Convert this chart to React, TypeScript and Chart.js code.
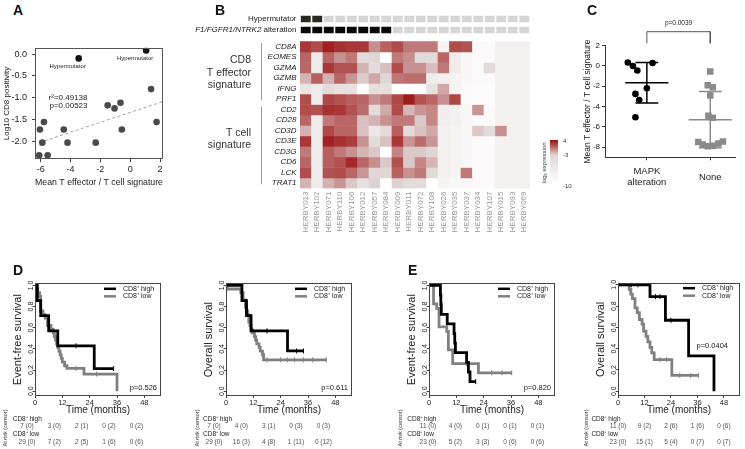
import React, { useEffect, useRef } from 'react';
import { Chart, registerables } from 'chart.js';

Chart.register(...registerables);

const FONT = "'Liberation Sans', Arial, Helvetica, sans-serif";
Chart.defaults.font.family = FONT;
Chart.defaults.color = '#333';

/* ================= Panel A : scatter ================= */
const aHyperX = [-3.45, 1.07];
const aHyperY = [-0.1, 0.08];
const aOtherX = [1.4, -1.51, -1.05, -0.65, 1.77, -0.56, -5.78, -6.05, -4.45, -5.89, -4.2, -2.31, -6.1, -5.53];
const aOtherY = [-0.8, -1.17, -1.24, -1.11, -1.55, -1.72, -1.55, -1.72, -1.72, -2.02, -2.02, -2.02, -2.31, -2.31];
const aXTicks = [-6, -4, -2, 0, 2];
const aYTicks = [0, -0.5, -1, -1.5, -2];
const aPointLabel = 'Hypermutator';
const aStats = ['r\u00b2=0.49138', 'p=0.00523'];
const aXTitle = 'Mean T effector / T cell signature';
const aYTitle = 'Log10 CD8 positivity';

/* ================= Panel B : heatmap ================= */
const bSamples = ['HERBY013', 'HERBY102', 'HERBY071', 'HERBY110', 'HERBY106', 'HERBY012', 'HERBY057', 'HERBY084', 'HERBY009', 'HERBY011',
  'HERBY072', 'HERBY108', 'HERBY026', 'HERBY035', 'HERBY037', 'HERBY034', 'HERBY107', 'HERBY015', 'HERBY093', 'HERBY069'];
const bGenes = ['CD8A', 'EOMES', 'GZMA', 'GZMB', 'IFNG', 'PRF1', 'CD2', 'CD28', 'CD3D', 'CD3E', 'CD3G', 'CD6', 'LCK', 'TRAT1'];
const bHypermutator = [1, 1, 0, 0, 0, 0, 0, 0, 0, 0, 0, 0, 0, 0, 0, 0, 0, 0, 0, 0];
const bMapkAltered = [1, 1, 1, 1, 1, 1, 1, 1, 0, 0, 0, 0, 0, 0, 0, 0, 0, 0, 0, 0];
const bAnnotLabels = ['Hypermutator', 'NF1/FGFR1/NTRK2', ' alteration'];
const bGroupLabels = [['CD8', 'T effector', 'signature'], ['T cell', 'signature']];
const bExpr = [
  [3.0, 2.2, 3.9, 3.2, 3.0, 3.0, -0.3, 1.4, 2.2, 0.5, 0.5, 0.5, -7.8, 2.2, 2.0, -9, -9, -7.5, -7.5, -7.5], // CD8A
  [1.3, -6.2, 1.3, -0.4, 0.5, -3.6, -3.0, -10, 0.5, -0.3, -3.5, -3.5, 1.2, -6.6, -8.5, -9, -9, -7.5, -7.5, -7.5], // EOMES
  [1.2, -6.2, 3.0, 2.0, 2.0, -1.7, -3.9, -2.1, 2.2, -0.4, -0.4, -2.1, 0.5, -6.6, -8.5, -9, -3.6, -7.5, -7.5, -7.5], // GZMA
  [-1.7, 1.5, -1.6, 1.3, -0.5, -2.6, -1.2, -3.0, 0.6, 0.9, 0.9, -6.6, -7.5, -8, -8.5, -9, -9, -7.5, -7.5, -7.5], // GZMB
  [-5.2, -6.6, -3.9, -4.8, -4.8, -10, -4.4, -4.4, -10, -10, -10, -4.8, -1.2, -8, -9, -9.5, -9.5, -7.5, -7.5, -7.5], // IFNG
  [2.2, -6.6, 2.4, 2.0, 1.5, 1.3, -0.4, 0.5, 2.4, 4.0, 2.0, 1.2, -0.4, 2.4, -9, -9.5, -9.5, -7.5, -7.5, -7.5], // PRF1
  [2.2, 2.0, 3.2, 3.0, 2.0, 1.0, -3.9, -1.3, 2.2, -1.8, -0.5, 0.0, -7, -7.5, -8.4, -0.5, -9, -7.5, -7.5, -7.5], // CD2
  [1.2, -6.6, 0.5, 1.2, 1.2, -2.2, -1.7, -0.4, 0.5, 0.5, -2.5, 0.0, -7, -7.5, -8.4, -9, -9, -7.5, -7.5, -7.5], // CD28
  [-1.6, -6.6, 2.4, 1.2, 1.2, -2.2, -5.7, -3.7, 1.5, -3.7, -2.2, -1.3, -7.5, -8, -8.5, -2.5, -3.6, -0.4, -7.5, -7.5], // CD3D
  [3.0, -6.6, 3.8, 3.2, 2.8, -0.4, -3.9, -2.2, 3.0, -0.5, 1.0, -0.5, -7.5, -8, -8.5, -9, -9, -7.5, -7.5, -7.5], // CD3E
  [0.5, -6.6, 1.5, 0.5, -0.4, -1.8, -2.5, -10, 0.1, -2.5, -2.5, -3.0, -7.5, -8, -8.5, -9, -9, -7.5, -7.5, -7.5], // CD3G
  [1.2, -6.6, 1.5, 2.0, 3.5, 1.2, -0.3, -2.5, 2.0, -2.5, 0.0, -1.8, -7.5, -8, -8.5, -9, -9, -7.5, -7.5, -7.5], // CD6
  [2.2, -6.6, 2.0, 2.2, 1.2, -0.5, -3.0, -3.0, 1.4, -0.4, 0.5, -3.5, -7.5, -8, 0.5, -9, -9, -7.5, -7.5, -7.5], // LCK
  [-1.7, -6.6, -1.6, -0.5, -2.5, -4.8, -2.8, -10, -2.8, -3.7, -3.7, -10, -8, -8.5, -8.5, -9, -9, -7.5, -7.5, -7.5], // TRAT1
];
const bLegendTicks = [4, -3, -10];
const bLegendTitle = 'log\u2082 expression';

/* ================= Panel C : dot plot ================= */
const cGroupLabels: (string | string[])[] = [['MAPK', 'alteration'], 'None'];
const cMapkVals = [0.35, 0.0, -0.45, 0.3, -2.2, -2.75, -3.35, -5.05];
const cMapkJitter = [-0.3, -0.22, -0.15, 0.09, 0.0, -0.18, -0.12, -0.18];
const cNoneVals = [-0.55, -1.9, -2.1, -2.9, -4.9, -5.1, -7.5, -7.75, -7.9, -7.85, -7.65, -7.45];
const cNoneJitter = [0, -0.04, 0.04, 0, -0.03, 0.04, -0.19, -0.12, -0.04, 0.04, 0.13, 0.2];
const cYTicks = [2, 0, -2, -4, -6, -8];
const cPValue = 'p=0.0039';
const cYTitle = 'Mean T effector / T cell signature';

/* ================= Panels D / E : Kaplan-Meier ================= */
const kmXTicks = [0, 12, 24, 36, 48];
const kmYTicks = [0, 0.2, 0.4, 0.6, 0.8, 1.0];
const kmGroups = ['CD8\u207a high', 'CD8\u207a low'];
const kmXTitle = 'Time (months)';
const kmRiskTitle = 'At risk (censor)';

// D – event-free survival
const dEfsHighT = [0, 1, 2.5, 6, 10, 26, 34.5];
const dEfsHighS = [1, 0.857, 0.714, 0.571, 0.429, 0.214, 0.214];
const dEfsHighCensT = [18, 34.5];
const dEfsHighCensS = [0.429, 0.214];
const dEfsLowT = [0, 0.5, 1.2, 2, 2.5, 3.5, 4.5, 5.5, 7, 8, 8.5, 9, 9.5, 10, 10.5, 11, 11.5, 12, 13, 14, 21.5, 36];
const dEfsLowS = [1, 0.966, 0.931, 0.897, 0.759, 0.724, 0.69, 0.621, 0.586, 0.552, 0.517, 0.483, 0.448, 0.414, 0.379, 0.345, 0.31, 0.276, 0.241, 0.216, 0.162, 0];
const dEfsLowCensT = [18, 27];
const dEfsLowCensS = [0.216, 0.162];
const dEfsRiskHigh = ['7 (0)', '3 (0)', '2 (1)', '0 (2)', '0 (2)'];
const dEfsRiskLow = ['29 (0)', '7 (2)', '2 (5)', '1 (6)', '0 (6)'];

// D – overall survival
const dOsHighT = [0, 7, 9, 11, 27, 34];
const dOsHighS = [1, 0.857, 0.714, 0.571, 0.381, 0.381];
const dOsHighCensT = [18, 31, 34];
const dOsHighCensS = [0.571, 0.381, 0.381];
const dOsLowT = [0, 0.5, 6.5, 7.5, 8.5, 9, 9.5, 10, 10.5, 11, 11.5, 12.5, 13, 13.5, 14.5, 15, 16, 16.5, 44];
const dOsLowS = [1, 0.966, 0.931, 0.862, 0.793, 0.759, 0.724, 0.655, 0.621, 0.586, 0.552, 0.517, 0.483, 0.448, 0.414, 0.379, 0.345, 0.297, 0.297];
const dOsLowCensT = [18, 24, 27, 30, 34, 38, 44];
const dOsLowCensS = [0.297, 0.297, 0.297, 0.297, 0.297, 0.297, 0.297];
const dOsRiskHigh = ['7 (0)', '4 (0)', '3 (1)', '0 (3)', '0 (3)'];
const dOsRiskLow = ['29 (0)', '16 (3)', '4 (8)', '1 (11)', '0 (12)'];

// E – event-free survival
const eEfsHighT = [0, 5, 5.2, 5.4, 8, 11, 11.3, 11.6, 16.5, 17.3, 18, 20.5];
const eEfsHighS = [1, 0.909, 0.818, 0.727, 0.636, 0.545, 0.455, 0.364, 0.273, 0.182, 0.091, 0.091];
const eEfsHighCensT = [20.5];
const eEfsHighCensS = [0.091];
const eEfsLowT = [0, 2, 3.4, 4.4, 7.8, 8.5, 10.4, 21.7, 36.3];
const eEfsLowS = [1, 0.826, 0.783, 0.609, 0.565, 0.391, 0.261, 0.174, 0.174];
const eEfsLowCensT = [16.5, 27.5, 32, 36.3];
const eEfsLowCensS = [0.261, 0.174, 0.174, 0.174];
const eEfsRiskHigh = ['11 (0)', '4 (0)', '0 (1)', '0 (1)', '0 (1)'];
const eEfsRiskLow = ['23 (0)', '5 (2)', '3 (3)', '0 (6)', '0 (6)'];

// E – overall survival
const eOsHighT = [0, 14.5, 21.5, 32, 43.5];
const eOsHighS = [1, 0.889, 0.667, 0.333, 0];
const eOsHighCensT = [6, 9, 17, 19, 24];
const eOsHighCensS = [1, 1, 0.889, 0.889, 0.667];
const eOsLowT = [0, 5.1, 5.8, 6.5, 7.7, 8.7, 9.7, 10.9, 11.6, 12.7, 13.5, 14.5, 15.3, 16.4, 24.4, 36.4];
const eOsLowS = [1, 0.957, 0.913, 0.87, 0.783, 0.739, 0.674, 0.63, 0.565, 0.515, 0.464, 0.412, 0.361, 0.297, 0.149, 0.149];
const eOsLowCensT = [19, 22, 28, 33, 36.4];
const eOsLowCensS = [0.297, 0.297, 0.149, 0.149, 0.149];
const eOsRiskHigh = ['11 (0)', '9 (2)', '2 (6)', '1 (6)', '0 (6)'];
const eOsRiskLow = ['23 (0)', '15 (1)', '5 (4)', '0 (7)', '0 (7)'];

/* ================= helpers ================= */
const fixW = (w: number) => (s: any) => { s.width = w; s.paddingTop = 0; s.paddingBottom = 0; };
const fixH = (h: number) => (s: any) => { s.height = h; s.paddingLeft = 0; s.paddingRight = 0; };
const setTicks = (vals: number[]) => (s: any) => { s.ticks = vals.map((v) => ({ value: v })); };
const pts = (xs: number[], ys: number[]) => xs.map((x, i) => ({ x, y: ys[i] }));
const mean = (v: number[]) => v.reduce((a, b) => a + b, 0) / v.length;
const sd = (v: number[]) => { const m = mean(v); return Math.sqrt(v.reduce((a, b) => a + (b - m) * (b - m), 0) / (v.length - 1)); };

function linFit(xs: number[], ys: number[]) {
  const mx = mean(xs), my = mean(ys);
  let sxy = 0, sxx = 0;
  xs.forEach((x, i) => { sxy += (x - mx) * (ys[i] - my); sxx += (x - mx) * (x - mx); });
  const b = sxy / sxx;
  return { a: my - b * mx, b };
}

function frame(ctx: CanvasRenderingContext2D, a: any, color: string) {
  const L = Math.round(a.left) + 0.5, T = Math.round(a.top) + 0.5;
  const R = Math.round(a.right) - 0.5, B = Math.round(a.bottom) - 0.5;
  ctx.save();
  ctx.strokeStyle = color;
  ctx.lineWidth = 1;
  ctx.strokeRect(L, T, R - L, B - T);
  ctx.restore();
}

function heatColor(v: number) {
  const hi = [160, 28, 28], mid = [224, 214, 214], lo = [255, 255, 255];
  let c: number[];
  if (v >= -3) {
    const t = Math.min(1, (v + 3) / 7);
    c = mid.map((m, k) => m + (hi[k] - m) * t);
  } else {
    const t = Math.max(0, (v + 10) / 7);
    c = lo.map((l, k) => l + (mid[k] - l) * t);
  }
  return `rgb(${c.map((x) => Math.round(x)).join(',')})`;
}

/* ================= Panel A config ================= */
const A_X_RANGE = [-6.38, 2.2];
const A_Y_RANGE = [-2.4, 0.144];

function buildA() {
  const fit = linFit(aOtherX, aOtherY);
  const x0 = Math.min(...aOtherX), x1 = A_X_RANGE[1];
  const textPlugin = {
    id: 'aText',
    afterDraw(chart: any) {
      const { ctx, chartArea: a, scales: { x, y } } = chart;
      frame(ctx, a, '#555');
      ctx.save();
      ctx.fillStyle = '#222';
      ctx.textBaseline = 'middle';
      ctx.textAlign = 'center';
      ctx.font = `6px ${FONT}`;
      aHyperX.forEach((hx, i) => {
        const px = x.getPixelForValue(hx), py = y.getPixelForValue(aHyperY[i]);
        ctx.fillText(aPointLabel, px - 11, py + 8);
      });
      ctx.font = `8px ${FONT}`;
      ctx.textAlign = 'right';
      ctx.fillText(aStats[0], a.left + 52.5, a.top + 50);
      ctx.fillText(aStats[1], a.left + 52.5, a.top + 58.5);
      ctx.restore();
    },
  };
  return {
    type: 'scatter',
    data: {
      datasets: [
        { data: pts(aHyperX, aHyperY), pointRadius: 3.3, pointBackgroundColor: '#111', pointBorderWidth: 0 },
        { data: pts(aOtherX, aOtherY), pointRadius: 3.3, pointBackgroundColor: '#4a4a4a', pointBorderWidth: 0 },
        {
          type: 'line',
          data: [{ x: x0, y: fit.a + fit.b * x0 }, { x: x1, y: fit.a + fit.b * x1 }],
          borderColor: '#a0a0a0', borderWidth: 1, borderDash: [3, 2.5], pointRadius: 0,
        },
      ],
    },
    options: {
      responsive: false,
      animation: false,
      layout: { padding: { left: 0, right: 7, top: 7.7, bottom: 10.7 } },
      plugins: { legend: { display: false }, tooltip: { enabled: false } },
      scales: {
        x: {
          type: 'linear', min: A_X_RANGE[0], max: A_X_RANGE[1],
          afterBuildTicks: setTicks(aXTicks), afterFit: fixH(30),
          grid: { display: true, drawOnChartArea: false, drawTicks: true, tickLength: 3, color: '#444' },
          border: { display: false },
          ticks: { font: { size: 9 }, color: '#222', padding: 2, maxRotation: 0 },
          title: { display: true, text: aXTitle, font: { size: 9 }, color: '#222', padding: { top: 0, bottom: 1 } },
        },
        y: {
          type: 'linear', min: A_Y_RANGE[0], max: A_Y_RANGE[1],
          afterBuildTicks: setTicks(aYTicks), afterFit: fixW(35),
          grid: { display: true, drawOnChartArea: false, drawTicks: true, tickLength: 3, color: '#444' },
          border: { display: false },
          ticks: { font: { size: 9 }, color: '#222', padding: 5, callback: (v: any) => Number(v).toFixed(1) },
          title: { display: true, text: aYTitle, font: { size: 8 }, color: '#222', padding: { top: 2, bottom: 0 } },
        },
      },
    },
    plugins: [textPlugin],
  };
}

/* ================= Panel B config ================= */
const B_HYPER_ROW = -2.14;
const B_MAPK_ROW = -1.1;
const B_ANNOT_HALF = 0.31;

function buildB() {
  const datasets: any[] = [];
  bGenes.forEach((g, r) => {
    datasets.push({
      label: g,
      data: bSamples.map(() => [r, r + 1]),
      backgroundColor: bExpr[r].map(heatColor),
      barPercentage: 1, categoryPercentage: 1, borderWidth: 0, grouped: false,
    });
  });
  datasets.push({
    label: 'Hypermutator',
    data: bSamples.map(() => [B_HYPER_ROW - B_ANNOT_HALF, B_HYPER_ROW + B_ANNOT_HALF]),
    backgroundColor: bHypermutator.map((v) => (v ? '#2b2a20' : '#d5d5d5')),
    barPercentage: 0.86, categoryPercentage: 1, borderWidth: 0, grouped: false,
  });
  datasets.push({
    label: 'NF1/FGFR1/NTRK2 alteration',
    data: bSamples.map(() => [B_MAPK_ROW - B_ANNOT_HALF, B_MAPK_ROW + B_ANNOT_HALF]),
    backgroundColor: bMapkAltered.map((v) => (v ? '#080808' : '#d5d5d5')),
    barPercentage: 0.86, categoryPercentage: 1, borderWidth: 0, grouped: false,
  });

  const textPlugin = {
    id: 'bText',
    afterDraw(chart: any) {
      const { ctx, chartArea: a, scales: { y } } = chart;
      ctx.save();
      ctx.fillStyle = '#222';
      ctx.textBaseline = 'middle';
      ctx.textAlign = 'right';
      const xr = a.left - 3.5;
      ctx.font = `8px ${FONT}`;
      ctx.fillText(bAnnotLabels[0], xr, y.getPixelForValue(B_HYPER_ROW));
      const yy = y.getPixelForValue(B_MAPK_ROW);
      const wTail = ctx.measureText(bAnnotLabels[2]).width;
      ctx.fillText(bAnnotLabels[2], xr, yy);
      ctx.font = `italic 8px ${FONT}`;
      ctx.fillText(bAnnotLabels[1], xr - wTail, yy);

      // group labels and brackets
      ctx.font = `10.5px ${FONT}`;
      ctx.fillStyle = '#333';
      const gx = a.left - 49;
      const g1 = y.getPixelForValue(3);
      bGroupLabels[0].forEach((t, i) => ctx.fillText(t, gx, g1 - 12.5 + i * 12.5));
      const g2 = y.getPixelForValue(9.3);
      bGroupLabels[1].forEach((t, i) => ctx.fillText(t, gx, g2 - 6.3 + i * 12.5));
      ctx.strokeStyle = '#999';
      ctx.lineWidth = 1;
      const bx = Math.round(a.left - 39) + 0.5;
      ctx.beginPath();
      ctx.moveTo(bx, y.getPixelForValue(0.15)); ctx.lineTo(bx, y.getPixelForValue(5.6));
      ctx.moveTo(bx, y.getPixelForValue(6.2)); ctx.lineTo(bx, y.getPixelForValue(13.6));
      ctx.stroke();

      // colour legend
      const y0 = a.top + 125.8, y1 = a.top + 169.8;
      const posOf = (v: number) => (v >= -3 ? y0 + 1.5 + ((4 - v) / 7) * 13.5 : y0 + 15 + ((-3 - v) / 7) * (y1 - y0 - 15));
      const bx0 = a.right + 20;
      const grad = ctx.createLinearGradient(0, y0, 0, y1);
      [4, 3, 2, 1, 0, -1, -2, -3, -4.5, -6, -8, -10].forEach((v) => {
        grad.addColorStop(Math.min(1, Math.max(0, (posOf(v) - y0) / (y1 - y0))), heatColor(v));
      });
      ctx.fillStyle = grad;
      ctx.fillRect(bx0, y0, 8, y1 - y0);
      ctx.fillStyle = '#333';
      ctx.font = `6px ${FONT}`;
      ctx.textAlign = 'left';
      bLegendTicks.forEach((v) => ctx.fillText(String(v), bx0 + 13, posOf(v) + (v === -10 ? 2.5 : 0)));
      ctx.save();
      ctx.translate(bx0 - 6, (y0 + y1) / 2 + 1);
      ctx.rotate(-Math.PI / 2);
      ctx.textAlign = 'center';
      ctx.fillText(bLegendTitle, 0, 0);
      ctx.restore();
      ctx.restore();
    },
  };

  return {
    type: 'bar',
    data: { labels: bSamples, datasets },
    options: {
      responsive: false,
      animation: false,
      layout: { padding: { left: 0, right: 45, top: 6.2, bottom: 0 } },
      plugins: { legend: { display: false }, tooltip: { enabled: false } },
      scales: {
        x: {
          type: 'category', offset: true,
          afterFit: fixH(59.5),
          grid: { display: false, drawTicks: false },
          border: { display: false },
          ticks: { autoSkip: false, minRotation: 90, maxRotation: 90, padding: 3, color: '#999', font: { size: 8 } },
        },
        y: {
          type: 'linear', min: -2.6, max: 14, reverse: true,
          afterBuildTicks: setTicks(bGenes.map((_, i) => i + 0.5)),
          afterFit: fixW(105),
          grid: { display: false, drawTicks: false },
          border: { display: false },
          ticks: {
            autoSkip: false, padding: 3.5, color: '#222', font: { size: 8, style: 'italic' },
            callback: (_v: any, i: number) => bGenes[i],
          },
        },
      },
    },
    plugins: [textPlugin],
  };
}

/* ================= Panel C config ================= */
function buildC() {
  const summary = (c: number, vals: number[]) => {
    const m = mean(vals), s = sd(vals);
    return [
      { x: c - 0.34, y: m }, { x: c + 0.34, y: m }, { x: c, y: null },
      { x: c - 0.18, y: m + s }, { x: c + 0.18, y: m + s }, { x: c, y: null },
      { x: c - 0.18, y: m - s }, { x: c + 0.18, y: m - s }, { x: c, y: null },
      { x: c, y: m + s }, { x: c, y: m - s },
    ];
  };
  const textPlugin = {
    id: 'cText',
    afterDraw(chart: any) {
      const { ctx, scales: { x, y } } = chart;
      ctx.save();
      ctx.fillStyle = '#222';
      ctx.font = `6.5px ${FONT}`;
      ctx.textAlign = 'center';
      ctx.textBaseline = 'middle';
      ctx.fillText(cPValue, x.getPixelForValue(1.5), y.getPixelForValue(3.38) - 8);
      ctx.restore();
    },
  };
  return {
    type: 'scatter',
    data: {
      datasets: [
        { data: cMapkVals.map((v, i) => ({ x: 1 + cMapkJitter[i], y: v })), pointRadius: 3.3, pointBackgroundColor: '#000', pointBorderWidth: 0 },
        { data: cNoneVals.map((v, i) => ({ x: 2 + cNoneJitter[i], y: v })), pointStyle: 'rect', pointRadius: 4.6, pointBackgroundColor: '#8a8a8a', pointBorderWidth: 0 },
        { type: 'line', data: summary(1, cMapkVals), borderColor: '#000', borderWidth: 1.5, pointRadius: 0, spanGaps: false },
        { type: 'line', data: summary(2, cNoneVals), borderColor: '#8a8a8a', borderWidth: 1.5, pointRadius: 0, spanGaps: false },
        {
          type: 'line', data: [{ x: 1, y: 2.24 }, { x: 1, y: 3.38 }, { x: 2, y: 3.38 }, { x: 2, y: 2.24 }],
          borderColor: '#555', borderWidth: 1, pointRadius: 0, clip: false,
        },
      ],
    },
    options: {
      responsive: false,
      animation: false,
      layout: { padding: { left: 0, right: 10, top: 35.7, bottom: 12.7 } },
      plugins: { legend: { display: false }, tooltip: { enabled: false } },
      scales: {
        x: {
          type: 'linear', min: 0.34, max: 2.39,
          afterBuildTicks: setTicks([1, 2]), afterFit: fixH(30),
          grid: { display: true, drawOnChartArea: false, drawTicks: true, tickLength: 3, color: '#333' },
          border: { display: true, color: '#333' },
          ticks: { font: { size: 9.5 }, color: '#222', padding: 11, maxRotation: 0, crossAlign: 'center', callback: (_v: any, i: number) => cGroupLabels[i] },
        },
        y: {
          type: 'linear', min: -9, max: 2,
          afterBuildTicks: setTicks(cYTicks), afterFit: fixW(30),
          grid: { display: true, drawOnChartArea: false, drawTicks: true, tickLength: 3, color: '#333' },
          border: { display: true, color: '#333' },
          ticks: { font: { size: 8 }, color: '#222', padding: 2 },
          title: { display: true, text: cYTitle, font: { size: 8.5 }, color: '#222', padding: { top: 7.5, bottom: 0 } },
        },
      },
    },
    plugins: [textPlugin],
  };
}

/* ================= KM config ================= */
type Curve = { t: number[]; s: number[]; ct: number[]; cs: number[]; risk: string[] };
type KMSpec = {
  left: number; top: number; width: number; height: number; padRight: number; padTop: number;
  yTitle: string; pText: string; pDx: number; pDy: number; numDx: number; labDx: number; riskDx: number;
  high: Curve; low: Curve;
};

const KM_X_MAX = 55.3;

function buildKM(p: KMSpec) {
  const textPlugin = {
    id: 'kmText',
    afterDraw(chart: any) {
      const { ctx, chartArea: a, scales: { x } } = chart;
      frame(ctx, a, '#444');
      ctx.save();
      // legend
      const lx = a.right - 57;
      [['#000', kmGroups[0]], ['#808080', kmGroups[1]]].forEach(([c, t], i) => {
        const ly = a.top + 5.5 + i * 7.5;
        ctx.strokeStyle = c;
        ctx.lineWidth = 2.5;
        ctx.beginPath();
        ctx.moveTo(lx, ly);
        ctx.lineTo(lx + 12, ly);
        ctx.stroke();
        ctx.fillStyle = '#222';
        ctx.font = `7px ${FONT}`;
        ctx.textAlign = 'left';
        ctx.textBaseline = 'middle';
        ctx.fillText(t, lx + 19, ly);
      });
      // p value
      ctx.font = `7.5px ${FONT}`;
      ctx.textAlign = 'right';
      ctx.fillText(p.pText, a.right + p.pDx, a.bottom + p.pDy);
      // at-risk table
      const base = a.bottom;
      ctx.fillStyle = '#222';
      ctx.font = `6.5px ${FONT}`;
      ctx.textAlign = 'left';
      ctx.fillText(kmGroups[0], a.left + p.labDx, base + 23.3);
      ctx.fillText(kmGroups[1], a.left + p.labDx, base + 38);
      ctx.fillStyle = '#555';
      ctx.textAlign = 'center';
      kmXTicks.forEach((t, i) => {
        const px = x.getPixelForValue(t) + p.numDx;
        ctx.fillText(p.high.risk[i], px, base + 30.7);
        ctx.fillText(p.low.risk[i], px, base + 46.7);
      });
      ctx.save();
      ctx.translate(a.left + p.riskDx, base + 32);
      ctx.rotate(-Math.PI / 2);
      ctx.font = `5.5px ${FONT}`;
      ctx.fillStyle = '#333';
      ctx.fillText(kmRiskTitle, 0, 0);
      ctx.restore();
      ctx.restore();
    },
  };
  const curve = (c: Curve, color: string) => ({
    data: pts(c.t, c.s), stepped: 'before', borderColor: color, borderWidth: 2.8, pointRadius: 0, fill: false,
  });
  const cens = (c: Curve, color: string) => ({
    data: pts(c.ct, c.cs), showLine: false, pointStyle: 'line', pointRotation: 90, pointRadius: 2.5,
    pointBorderColor: color, pointBorderWidth: 1, pointBackgroundColor: color,
  });
  return {
    type: 'line',
    data: {
      datasets: [
        curve(p.high, '#000'), cens(p.high, '#000'),
        curve(p.low, '#808080'), cens(p.low, '#808080'),
      ],
    },
    options: {
      responsive: false,
      animation: false,
      layout: { padding: { left: 0, right: p.padRight, top: p.padTop, bottom: 30 } },
      plugins: { legend: { display: false }, tooltip: { enabled: false } },
      scales: {
        x: {
          type: 'linear', min: 0, max: KM_X_MAX,
          afterBuildTicks: setTicks(kmXTicks), afterFit: fixH(23),
          grid: { display: true, drawOnChartArea: false, drawTicks: true, tickLength: 2, color: '#444' },
          border: { display: false },
          ticks: { font: { size: 7.5 }, color: '#222', padding: 0, maxRotation: 0 },
          title: { display: true, text: kmXTitle, font: { size: 10 }, color: '#222', padding: { top: 0, bottom: 2.5 } },
        },
        y: {
          type: 'linear', min: -0.045, max: 1.02,
          afterBuildTicks: setTicks(kmYTicks), afterFit: fixW(35),
          grid: { display: true, drawOnChartArea: false, drawTicks: true, tickLength: 2, color: '#444' },
          border: { display: false },
          ticks: {
            font: { size: 7 }, color: '#222', padding: -3, minRotation: 90, maxRotation: 90, crossAlign: 'center',
            callback: (v: any) => Number(v).toFixed(1),
          },
          title: { display: true, text: p.yTitle, font: { size: 11 }, color: '#222', padding: { top: 11, bottom: 0 } },
        },
      },
    },
    plugins: [textPlugin],
  };
}

const kmSpecs: KMSpec[] = [
  {
    left: 0, top: 255, width: 167, height: 194, padRight: 6, padTop: 28.3,
    yTitle: 'Event-free survival', pText: 'p=0.526', pDx: -4, pDy: -8, numDx: -8, labDx: -22.3, riskDx: -30,
    high: { t: dEfsHighT, s: dEfsHighS, ct: dEfsHighCensT, cs: dEfsHighCensS, risk: dEfsRiskHigh },
    low: { t: dEfsLowT, s: dEfsLowS, ct: dEfsLowCensT, cs: dEfsLowCensS, risk: dEfsRiskLow },
  },
  {
    left: 190.7, top: 255, width: 167, height: 194, padRight: 6, padTop: 28.3,
    yTitle: 'Overall survival', pText: 'p=0.611', pDx: -4, pDy: -8, numDx: -12, labDx: -23, riskDx: -29,
    high: { t: dOsHighT, s: dOsHighS, ct: dOsHighCensT, cs: dOsHighCensS, risk: dOsRiskHigh },
    low: { t: dOsLowT, s: dOsLowS, ct: dOsLowCensT, cs: dOsLowCensS, risk: dOsRiskLow },
  },
  {
    left: 394, top: 255, width: 167, height: 194, padRight: 6, padTop: 28.3,
    yTitle: 'Event-free survival', pText: 'p=0.820', pDx: -4, pDy: -8, numDx: -1, labDx: -21.7, riskDx: -28.3,
    high: { t: eEfsHighT, s: eEfsHighS, ct: eEfsHighCensT, cs: eEfsHighCensS, risk: eEfsRiskHigh },
    low: { t: eEfsLowT, s: eEfsLowS, ct: eEfsLowCensT, cs: eEfsLowCensS, risk: eEfsRiskLow },
  },
  {
    left: 583.3, top: 255, width: 162, height: 194, padRight: 1, padTop: 27.7,
    yTitle: 'Overall survival', pText: 'p=0.0404', pDx: -12, pDy: -50, numDx: 0, labDx: -26.6, riskDx: -31.6,
    high: { t: eOsHighT, s: eOsHighS, ct: eOsHighCensT, cs: eOsHighCensS, risk: eOsRiskHigh },
    low: { t: eOsLowT, s: eOsLowS, ct: eOsLowCensT, cs: eOsLowCensS, risk: eOsRiskLow },
  },
];

/* ================= React ================= */
function ChartBox(props: { left: number; top: number; width: number; height: number; make: () => any }) {
  const ref = useRef<HTMLCanvasElement | null>(null);
  useEffect(() => {
    if (!ref.current) return;
    const chart = new Chart(ref.current, props.make());
    return () => chart.destroy();
  }, []);
  return (
    <div style={{ position: 'absolute', left: props.left, top: props.top, width: props.width, height: props.height }}>
      <canvas ref={ref} width={props.width} height={props.height} style={{ display: 'block' }} />
    </div>
  );
}

const panelLetters = [
  { t: 'A', x: 13, y: 3 }, { t: 'B', x: 215, y: 3 }, { t: 'C', x: 587, y: 3 },
  { t: 'D', x: 13, y: 263 }, { t: 'E', x: 408, y: 263 },
];

export default function App() {
  return (
    <div style={{ position: 'fixed', left: 0, top: 0, width: 745, height: 449, background: '#fff', overflow: 'hidden' }}>
      <ChartBox left={0} top={40} width={170} height={160} make={buildA} />
      <ChartBox left={195} top={8} width={380} height={240} make={buildB} />
      <ChartBox left={575} top={10} width={170} height={190} make={buildC} />
      {kmSpecs.map((s, i) => (
        <ChartBox key={i} left={s.left} top={s.top} width={s.width} height={s.height} make={() => buildKM(s)} />
      ))}
      {panelLetters.map((l) => (
        <div key={l.t} style={{ position: 'absolute', left: l.x, top: l.y, font: `bold 14px ${FONT}`, lineHeight: '14px', color: '#111' }}>{l.t}</div>
      ))}
    </div>
  );
}
